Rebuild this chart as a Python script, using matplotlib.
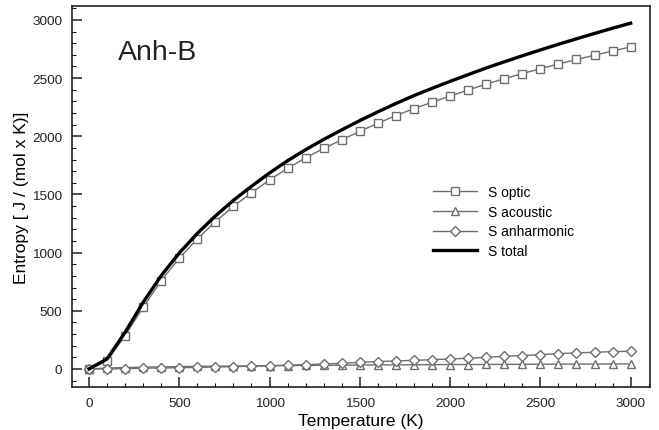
import numpy as np
import matplotlib
matplotlib.use("Agg")
import matplotlib.pyplot as plt
from matplotlib.ticker import MultipleLocator

plt.rcParams['font.family'] = ['Liberation Sans', 'DejaVu Sans']

# temperature grid (K)
temperature = list(range(0, 3001, 100))

# entropy contributions, J / (mol x K)
s_optic = [0, 70, 286, 530, 759, 952, 1118, 1266, 1399, 1513, 1625,
           1725, 1815, 1895, 1970, 2043, 2112, 2178, 2238, 2293, 2345,
           2398, 2448, 2495, 2539, 2581, 2621, 2660, 2697, 2733, 2768]
s_acoustic = [0, 8, 12, 15, 18, 20, 22, 24, 25, 26, 28,
              29, 30, 31, 32, 34, 35, 35, 36, 37, 38,
              38, 39, 39, 40, 41, 41, 42, 42, 43, 43]
s_anharmonic = [0, 0, 3, 6, 8, 11, 14, 17, 20, 24, 28,
                32, 37, 43, 49, 57, 63, 69, 74, 80, 86,
                92, 100, 109, 115, 123, 132, 138, 143, 149, 152]
s_total = [0, 86, 315, 573, 802, 997, 1165, 1315, 1450, 1570, 1685,
           1790, 1885, 1973, 2055, 2135, 2210, 2282, 2350, 2412, 2472,
           2530, 2587, 2640, 2692, 2742, 2791, 2838, 2884, 2929, 2972]

fig = plt.figure(figsize=(6.59, 4.31), dpi=100)
ax = fig.add_axes([0.1093, 0.0998, 0.8770, 0.8840])

grey = "#6e6e6e"
mk = dict(color=grey, lw=1.0, markerfacecolor="white",
          markeredgecolor=grey, markeredgewidth=1.0)

ax.plot(temperature, s_optic, marker="s", markersize=5.5, label="S optic", **mk)
ax.plot(temperature, s_acoustic, marker="^", markersize=6, label="S acoustic", **mk)
ax.plot(temperature, s_anharmonic, marker="D", markersize=5, label="S anharmonic", **mk)
ax.plot(temperature, s_total, color="black", lw=2.4, label="S total")

ax.set_xlim(-94, 3107)
ax.set_ylim(-155, 3120)
ax.xaxis.set_major_locator(MultipleLocator(500))
ax.xaxis.set_minor_locator(MultipleLocator(100))
ax.yaxis.set_major_locator(MultipleLocator(500))
ax.yaxis.set_minor_locator(MultipleLocator(100))
ax.tick_params(which="major", direction="in", length=7, width=1.1,
               labelsize=9.7, colors="#222222", pad=7)
ax.tick_params(which="minor", direction="in", length=3, width=0.8)
ax.tick_params(top=False, right=False)
for sp in ax.spines.values():
    sp.set_linewidth(1.2)
    sp.set_color("#222222")

ax.set_xlabel("Temperature (K)", fontsize=12.5, labelpad=3)
ax.set_ylabel("Entropy [ J / (mol x K)]", fontsize=12.5, labelpad=2)

ax.text(0.0796, 0.861, "Anh-B", transform=ax.transAxes, fontsize=20.5,
        color="#222222", va="baseline")

ax.legend(loc="upper left", bbox_to_anchor=(0.6246, 0.53), frameon=False,
          fontsize=10, handlelength=3.17, handletextpad=0.8,
          labelspacing=0.41, borderaxespad=0, borderpad=0)

fig.savefig("out.png", dpi=100)
